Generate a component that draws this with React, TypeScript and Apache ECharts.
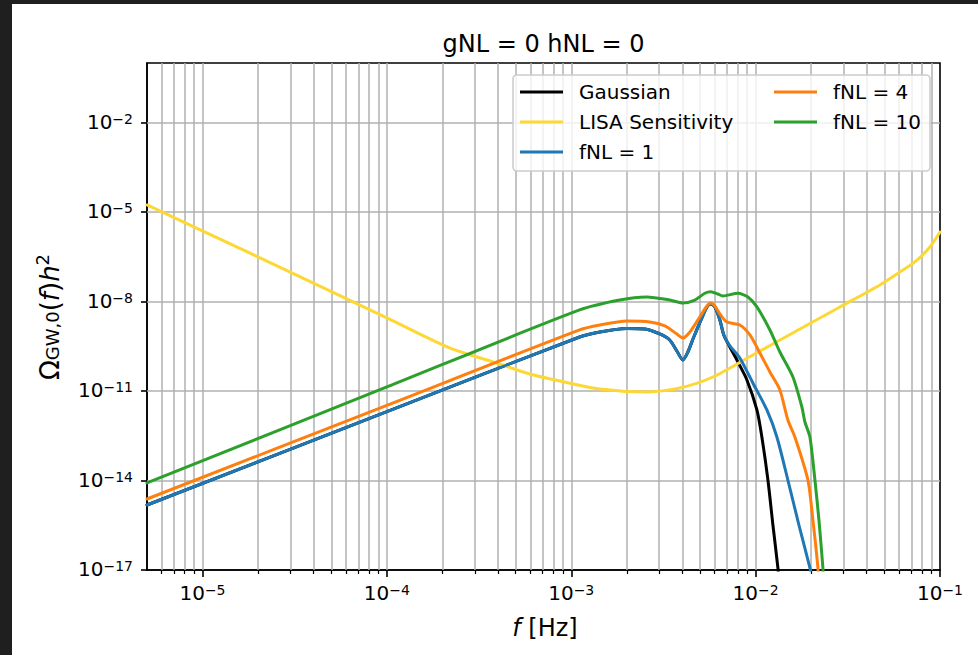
import React, { useEffect, useRef } from 'react';
import * as echarts from 'echarts';

const FONT = "'DejaVu Sans', Verdana, sans-serif";

const chartTitle = 'gNL = 0 hNL = 0';

const xMin = 5e-6;
const xMax = 0.1;
const yMin = 1e-17;
const yMax = 1;
const xMajorTicks = [1e-5, 1e-4, 1e-3, 1e-2, 1e-1];
const xDecades = [-6, -5, -4, -3, -2];
const xMinorMultipliers = [2, 3, 4, 5, 6, 7, 8, 9];
const yMajorTicks = [1e-17, 1e-14, 1e-11, 1e-8, 1e-5, 1e-2];

const seriesNames = ['Gaussian', 'LISA Sensitivity', 'fNL = 1', 'fNL = 4', 'fNL = 10'];
const seriesColors = ['#000000', '#fdd835', '#1f77b4', '#ff7f0e', '#2ca02c'];

const gaussian: [number, number][] = [
  [5e-6, 1.51e-15], [1e-4, 2.05e-12], [1.11e-3, 6.5e-10], [1.43e-3, 9.6e-10],
  [2.0e-3, 1.26e-9], [2.51e-3, 1.21e-9], [3.02e-3, 8.2e-10], [3.42e-3, 5.16e-10],
  [3.74e-3, 2.21e-10], [4.03e-3, 1.1e-10], [4.29e-3, 2.04e-10], [4.62e-3, 6.5e-10],
  [5.11e-3, 2.83e-9], [5.44e-3, 6.61e-9], [5.71e-3, 8.32e-9], [6.01e-3, 6.61e-9],
  [6.40e-3, 2.42e-9], [6.72e-3, 7.6e-10], [7.25e-3, 3.01e-10], [7.91e-3, 1.1e-10],
  [8.97e-3, 2.36e-11], [1.016e-2, 2.32e-12], [1.081e-2, 2.88e-13], [1.166e-2, 1.04e-14],
  [1.241e-2, 3.23e-16], [1.321e-2, 1.17e-17], [1.371e-2, 9.9e-19],
];

const lisaSensitivity: [number, number][] = [
  [5e-6, 1.74e-5], [1.8e-5, 4.28e-7], [1e-4, 2.83e-9], [2.19e-4, 2.79e-10],
  [4.09e-4, 8.09e-11], [5.95e-4, 3.74e-11], [8.66e-4, 2.18e-11], [1.43e-3, 1.17e-11],
  [2.51e-3, 9.31e-12], [3.88e-3, 1.27e-11], [5.86e-3, 2.96e-11], [9.66e-3, 1.62e-10],
  [1.739e-2, 1.21e-9], [2.866e-2, 6.61e-9], [4.72e-2, 3.61e-8], [6.07e-2, 9.84e-8],
  [7.31e-2, 2.13e-7], [8.82e-2, 6.79e-7], [0.1, 2.16e-6],
];

const fnl1: [number, number][] = [
  [5e-6, 1.51e-15], [1e-4, 2.05e-12], [1.11e-3, 6.5e-10], [1.43e-3, 9.6e-10],
  [2.0e-3, 1.26e-9], [2.51e-3, 1.21e-9], [3.02e-3, 8.2e-10], [3.42e-3, 5.16e-10],
  [3.74e-3, 2.21e-10], [4.03e-3, 1.1e-10], [4.29e-3, 2.04e-10], [4.62e-3, 6.5e-10],
  [5.11e-3, 2.83e-9], [5.44e-3, 6.61e-9], [5.71e-3, 8.32e-9], [6.01e-3, 6.61e-9],
  [6.40e-3, 2.42e-9], [6.72e-3, 7.6e-10], [7.25e-3, 3.25e-10], [8.21e-3, 1.29e-10],
  [9.66e-3, 1.87e-11], [1.151e-2, 2.32e-12], [1.304e-2, 2.88e-13], [1.496e-2, 1.04e-14],
  [1.717e-2, 3.23e-16], [1.97e-2, 1.17e-17], [2.097e-2, 2.13e-18],
];

const fnl4: [number, number][] = [
  [5e-6, 2.4e-15], [1e-4, 3.31e-12], [1.11e-3, 1.12e-9], [1.43e-3, 1.64e-9],
  [2.0e-3, 2.24e-9], [2.67e-3, 2.08e-9], [3.22e-3, 1.52e-9], [3.74e-3, 8.2e-10],
  [4.03e-3, 6.03e-10], [4.40e-3, 9.57e-10], [4.98e-3, 3.05e-9], [5.44e-3, 7.13e-9],
  [5.71e-3, 9.0e-9], [6.01e-3, 7.13e-9], [6.40e-3, 3.85e-9], [6.98e-3, 2.08e-9],
  [8.21e-3, 1.64e-9], [9.31e-3, 7.6e-10], [1.055e-2, 1.89e-10], [1.195e-2, 4.37e-11],
  [1.354e-2, 1.09e-11], [1.496e-2, 1.07e-12], [1.633e-2, 2.88e-13], [1.921e-2, 1.04e-14],
  [2.045e-2, 4.75e-16], [2.177e-2, 1.17e-17], [2.23e-2, 9.9e-19],
];

const fnl10: [number, number][] = [
  [5e-6, 8.28e-15], [1e-4, 1.37e-11], [1.11e-3, 5.24e-9], [1.83e-3, 1.13e-8],
  [2.57e-3, 1.43e-8], [3.42e-3, 1.13e-8], [4.03e-3, 9.0e-9], [4.68e-3, 1.13e-8],
  [5.30e-3, 1.9e-8], [5.71e-3, 2.15e-8], [6.24e-3, 1.8e-8], [6.64e-3, 1.54e-8],
  [8.01e-3, 1.9e-8], [9.08e-3, 1.43e-8], [1.016e-2, 6.61e-9], [1.195e-2, 1.12e-9],
  [1.354e-2, 2.04e-10], [1.593e-2, 2.96e-11], [1.782e-2, 2.92e-12], [1.851e-2, 9.18e-13],
  [1.97e-2, 2.88e-13], [2.097e-2, 1.04e-14], [2.205e-2, 4.75e-16], [2.317e-2, 1.17e-17],
  [2.38e-2, 9.9e-19],
];

const seriesData = [gaussian, lisaSensitivity, fnl1, fnl4, fnl10];

// helpers
const nudge = (vals: number[], lo: number, hi: number) =>
  vals.map((v) => (v <= lo * (1 + 1e-9) ? v * (1 + 1e-7) : v >= hi * (1 - 1e-9) ? v * (1 - 1e-7) : v));

const xMinorTicks: number[] = [];
xDecades.forEach((d) => {
  xMinorMultipliers.forEach((k) => {
    const v = k * Math.pow(10, d);
    if (v > xMin * (1 + 1e-9) && v < xMax * (1 - 1e-9)) xMinorTicks.push(v);
  });
});
const xGridValues = [...xMajorTicks, ...xMinorTicks].filter((v) => v > xMin * (1 + 1e-9) && v < xMax * (1 - 1e-9));
const yGridValues = yMajorTicks.filter((v) => v > yMin * (1 + 1e-9) && v < yMax * (1 - 1e-9));

const expText = (v: number) => {
  const e = Math.round(Math.log10(v));
  return (e < 0 ? '\u2212' : '') + Math.abs(e);
};
const powLabel = (v: number) => `{b|10}{s|${expText(v)}}`;

const tickRich = {
  b: { fontSize: 20, fontFamily: FONT, color: '#000', lineHeight: 22, verticalAlign: 'top' },
  s: { fontSize: 14, fontFamily: FONT, color: '#000', lineHeight: 13, verticalAlign: 'top' },
};

const axisLineStyle = { color: '#000', width: 1.6 };
const gridLineStyle = { color: '#b0b0b0', width: 1.5, type: 'solid' };

export default function App() {
  const ref = useRef<HTMLDivElement>(null);
  useEffect(() => {
    if (!ref.current) return;
    const chart = echarts.init(ref.current, null, { renderer: 'svg', width: 978, height: 655 });

    const lineSeries = seriesNames.map((name, i) => ({
      name,
      type: 'line',
      data: seriesData[i],
      showSymbol: false,
      symbol: 'none',
      smooth: 0.25,
      clip: true,
      z: 2,
      color: seriesColors[i],
      lineStyle: { color: seriesColors[i], width: 3, cap: 'round', join: 'round' },
      itemStyle: { color: seriesColors[i] },
      emphasis: { disabled: true },
      xAxisIndex: 0,
      yAxisIndex: 0,
    }));

    const legendBase = {
      orient: 'vertical',
      top: 82,
      padding: 0,
      icon: 'rect',
      itemWidth: 43,
      itemHeight: 3,
      itemGap: 10,
      selectedMode: false,
      z: 10,
      textStyle: { fontSize: 20, fontFamily: FONT, color: '#000', lineHeight: 20, padding: [0, 0, 0, 11] },
    };

    const option: any = {
      animation: false,
      backgroundColor: '#ffffff',
      textStyle: { fontFamily: FONT },
      grid: {
        left: 147,
        top: 63,
        width: 793,
        height: 507,
        show: true,
        borderColor: '#000',
        borderWidth: 1.6,
        backgroundColor: 'transparent',
        containLabel: false,
        outerBoundsMode: 'none',
      },
      legend: [
        { ...legendBase, left: 520, data: seriesNames.slice(0, 3) },
        { ...legendBase, left: 774, data: seriesNames.slice(3) },
      ],
      xAxis: [
        {
          type: 'log',
          logBase: 10,
          min: xMin,
          max: xMax,
          position: 'bottom',
          axisLine: { show: true, onZero: false, lineStyle: axisLineStyle },
          axisTick: { show: true, inside: false, length: 7, lineStyle: axisLineStyle, customValues: nudge(xMajorTicks, xMin, xMax) },
          axisLabel: {
            show: true,
            margin: 13,
            customValues: nudge(xMajorTicks, xMin, xMax),
            formatter: (v: number) => powLabel(v),
            rich: tickRich,
          },
          splitLine: { show: false },
          minorTick: { show: false },
          minorSplitLine: { show: false },
        },
        {
          type: 'log',
          logBase: 10,
          min: xMin,
          max: xMax,
          position: 'bottom',
          gridIndex: 0,
          axisLine: { show: false },
          axisTick: { show: true, inside: false, length: 4, lineStyle: { color: '#000', width: 1.2 }, customValues: xMinorTicks },
          axisLabel: { show: false },
          splitLine: { show: false },
        },
      ],
      yAxis: {
        type: 'log',
        logBase: 10,
        min: yMin,
        max: yMax,
        position: 'left',
        axisLine: { show: true, onZero: false, lineStyle: axisLineStyle },
        axisTick: { show: true, inside: false, length: 6, lineStyle: axisLineStyle, customValues: nudge(yMajorTicks, yMin, yMax) },
        axisLabel: {
          show: true,
          margin: 14,
          customValues: nudge(yMajorTicks, yMin, yMax),
          formatter: (v: number) => powLabel(v),
          rich: tickRich,
        },
        splitLine: { show: false },
        minorTick: { show: false },
      },
      series: [
        {
          name: '__grid',
          type: 'line',
          data: [],
          silent: true,
          z: 1,
          xAxisIndex: 0,
          yAxisIndex: 0,
          markLine: {
            silent: true,
            z: 1,
            precision: 20,
            animation: false,
            symbol: ['none', 'none'],
            label: { show: false },
            lineStyle: gridLineStyle,
            emphasis: { disabled: true },
            data: [
              ...xGridValues.map((v) => ({ xAxis: v })),
              ...yGridValues.map((v) => ({ yAxis: v })),
            ],
          },
        },
        ...lineSeries,
      ],
      graphic: {
        elements: [
          {
            type: 'rect',
            shape: { x: 513, y: 75, width: 417, height: 96, r: 4 },
            style: { fill: 'rgba(255,255,255,0.8)', stroke: '#cccccc', lineWidth: 1.6 },
            z: 3,
            silent: true,
          },
          {
            type: 'text',
            x: 543.5,
            y: 44,
            z: 10,
            style: { text: chartTitle, fontSize: 24, fontFamily: FONT, fill: '#000', align: 'center', verticalAlign: 'middle' },
          },
          {
            type: 'text',
            x: 545,
            y: 628,
            z: 10,
            style: {
              text: '{i|f}{n| [Hz]}',
              align: 'center',
              verticalAlign: 'middle',
              rich: {
                i: { fontSize: 24, fontFamily: FONT, fontStyle: 'italic', fill: '#000', color: '#000' },
                n: { fontSize: 24, fontFamily: FONT, fill: '#000', color: '#000' },
              },
            },
          },
          {
            type: 'text',
            x: 50,
            y: 317,
            rotation: Math.PI / 2,
            z: 10,
            style: {
              text: '{o|\u03A9}{sub|GW,0}{n|(}{i|f}{n|)}{i|h}{sup|2}',
              align: 'center',
              verticalAlign: 'middle',
              rich: {
                o: { fontSize: 26, fontFamily: FONT, color: '#000', lineHeight: 34 },
                n: { fontSize: 26, fontFamily: FONT, color: '#000', lineHeight: 34 },
                i: { fontSize: 26, fontFamily: FONT, fontStyle: 'italic', color: '#000', lineHeight: 34 },
                sub: { fontSize: 18, fontFamily: FONT, color: '#000', lineHeight: 15, verticalAlign: 'bottom', padding: [0, 0, 6, 0] },
                sup: { fontSize: 18, fontFamily: FONT, color: '#000', lineHeight: 15, verticalAlign: 'top' },
              },
            },
          },
          { type: 'rect', shape: { x: 0, y: 0, width: 12, height: 655 }, style: { fill: '#1f1f1f' }, z: 100, silent: true },
          { type: 'rect', shape: { x: 0, y: 0, width: 978, height: 4 }, style: { fill: '#1f1f1f' }, z: 100, silent: true },
        ],
      },
    };

    chart.setOption(option);
    return () => chart.dispose();
  }, []);

  return (
    <div
      ref={ref}
      style={{ position: 'fixed', left: 0, top: 0, width: 978, height: 655, background: '#ffffff' }}
    />
  );
}
